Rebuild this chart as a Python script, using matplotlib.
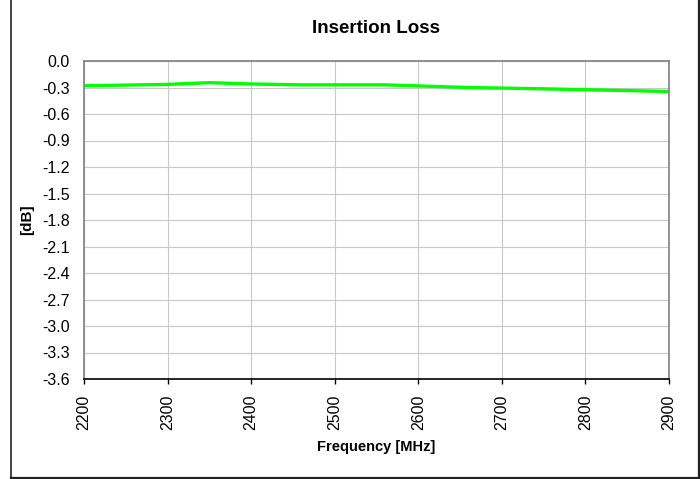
import matplotlib
matplotlib.use("Agg")
import matplotlib.pyplot as plt
from matplotlib.lines import Line2D

freq = [2200, 2300, 2350, 2400, 2460, 2560, 2660, 2750, 2900]
loss_db = [-0.28, -0.265, -0.245, -0.26, -0.27, -0.27, -0.30, -0.315, -0.345]
x_ticks = [2200, 2300, 2400, 2500, 2600, 2700, 2800, 2900]
y_ticks = [0.0, -0.3, -0.6, -0.9, -1.2, -1.5, -1.8, -2.1, -2.4, -2.7, -3.0, -3.3, -3.6]

plt.rcParams['font.family'] = ['Liberation Sans', 'DejaVu Sans']

W, H = 700, 479
fig = plt.figure(figsize=(W / 100, H / 100), dpi=100)
ax = fig.add_axes([84 / W, 1 - 379 / H, (669 - 84) / W, (379 - 61) / H])

ax.plot(freq, loss_db, color='#00ff00', lw=2.4, solid_capstyle='butt')

ax.set_xlim(2200, 2900)
ax.set_ylim(-3.6, 0.0)
ax.set_xticks(x_ticks)
ax.set_xticklabels([str(v) for v in x_ticks], rotation=90, fontsize=11.5)
ax.set_yticks(y_ticks)
ax.set_yticklabels([f"{v:.1f}" for v in y_ticks], fontsize=11.5)
ax.grid(True, color='#c8c8c8', lw=0.8)
ax.set_axisbelow(True)

for s in ['top', 'right', 'left']:
    ax.spines[s].set_color('#808080')
    ax.spines[s].set_linewidth(1.2)
ax.spines['bottom'].set_color('black')
ax.spines['bottom'].set_linewidth(1.2)
ax.tick_params(axis='y', length=0, pad=10)
ax.tick_params(axis='x', length=3.5, width=1.0, direction='out', color='black', pad=8)

ax.set_title('Insertion Loss', fontsize=13.5, fontweight='bold', pad=20)
ax.set_xlabel('Frequency [MHz]', fontsize=10.5, fontweight='bold', labelpad=7)
ax.set_ylabel('[dB]', fontsize=11, fontweight='bold', labelpad=6)

border = '#222222'
fig.add_artist(Line2D([10.5 / W, 10.5 / W], [1 - 477.5 / H, 1.0], transform=fig.transFigure,
                      color=border, lw=1.2))
fig.add_artist(Line2D([10.5 / W, 699 / W], [1 - 477.5 / H, 1 - 477.5 / H], transform=fig.transFigure,
                      color=border, lw=1.6))
fig.add_artist(Line2D([698.5 / W, 698.5 / W], [1 - 477.5 / H, 1.0], transform=fig.transFigure,
                      color=border, lw=1.6))

fig.savefig('out.png', dpi=100)
